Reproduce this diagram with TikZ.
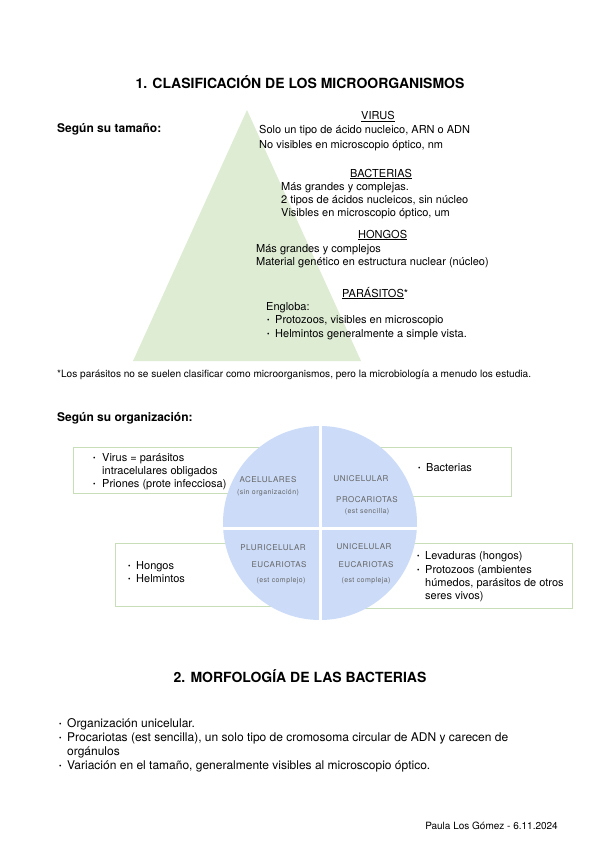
\documentclass[tikz,border=0pt]{standalone}
\usepackage{fontspec}
\setmainfont{TeX Gyre Heros}
\newfontfamily\handfont[LetterSpace=6]{TeX Gyre Heros}
\definecolor{pyrgreen}{RGB}{222,236,212}
\definecolor{circblue}{RGB}{204,220,248}
\definecolor{boxgreen}{RGB}{200,222,184}
\definecolor{handgray}{RGB}{100,100,100}
\tikzset{
  txt/.style={anchor=base west, inner sep=0pt, font=\fontsize{11}{13}\selectfont},
  bigtxt/.style={anchor=base west, inner sep=0pt, font=\fontsize{12}{14}\selectfont},
  ttl/.style={anchor=base, inner sep=0pt, font=\fontsize{14}{16}\selectfont\bfseries},
  sub/.style={anchor=base west, inner sep=0pt, font=\fontsize{12}{14}\selectfont\bfseries},
  bul/.style={anchor=base west, inner sep=0pt, font=\fontsize{7}{8}\selectfont},
  hw/.style={anchor=center, inner sep=0pt, text=handgray, font=\fontsize{8}{9}\handfont},
  hws/.style={anchor=center, inner sep=0pt, text=handgray, font=\fontsize{7}{8}\handfont},
  boxline/.style={draw=boxgreen, line width=0.6pt},
}
\begin{document}
\begin{tikzpicture}[x=1pt,y=-1pt]
\useasboundingbox[fill=white] (0,0) rectangle (599,848);
% title
\node[ttl] (t1) at (300,89) {1. CLASIFICACIÓN DE LOS MICROORGANISMOS};
\node[sub] (s1) at (57,132) {Según su tamaño:};
% pyramid
\fill[pyrgreen] (247,110) -- (361,361) -- (133,361) -- cycle;
\node[txt] (vh) at (361,120) {\underline{VIRUS}};
\node[txt] (v1) at (259,134) {Solo un tipo de ácido nucleico, ARN o ADN};
\node[txt] (v2) at (259,148) {No visibles en microscopio óptico, nm};
\node[txt] (bh) at (350,177) {\underline{BACTERIAS}};
\node[txt] (b1) at (281,190) {Más grandes y complejas.};
\node[txt] (b2) at (281,203) {2 tipos de ácidos nucleicos, sin núcleo};
\node[txt] (b3) at (281,216) {Visibles en microscopio óptico, um};
\node[txt] (hh) at (358,238) {\underline{HONGOS}};
\node[txt] (h1) at (256,252) {Más grandes y complejos};
\node[txt] (h2) at (256,265) {Material genético en estructura nuclear (núcleo)};
\node[txt] (ph) at (342,297) {\underline{PARÁSITOS}*};
\node[txt] (p0) at (266,310) {Engloba:};
\node[bul] (pb1) at (267,322.5) {•};
\node[txt] (p1) at (275,323) {Protozoos, visibles en microscopio};
\node[bul] (pb2) at (267,336.5) {•};
\node[txt] (p2) at (275,337) {Helmintos generalmente a simple vista.};
\node[anchor=base west, inner sep=0pt, font=\fontsize{10.1}{12}\selectfont] (fn) at (57,377) {*Los parásitos no se suelen clasificar como microorganismos, pero la microbiología a menudo los estudia.};
\node[sub] (s2) at (57,421) {Según su organización:};
% boxes
\draw[boxline] (73,447) rectangle (290,493);
\draw[boxline] (360,447) rectangle (511,496);
\draw[boxline] (115,543) rectangle (300,606);
\draw[boxline] (340,543) rectangle (572,608);
% circle
\fill[circblue] (320,523) circle (97);
\begin{scope}
\clip (320,523) circle (97);
\draw[white, line width=3pt] (320,420) -- (320,626);
\draw[white, line width=3pt] (220,528) -- (420,528);
\end{scope}
\node[hw] (q1a) at (268,480) {ACELULARES};
\node[hws] (q1b) at (268,493) {(sin organización)};
\node[hw] (q2a) at (361,479) {UNICELULAR};
\node[hw] (q2b) at (367,500) {PROCARIOTAS};
\node[hws] (q2c) at (367,512) {(est sencilla)};
\node[hw] (q3a) at (273,548) {PLURICELULAR};
\node[hw] (q3b) at (279,565) {EUCARIOTAS};
\node[hws] (q3c) at (281,581) {(est complejo)};
\node[hw] (q4a) at (364,547) {UNICELULAR};
\node[hw] (q4b) at (366,565) {EUCARIOTAS};
\node[hws] (q4c) at (366,581) {(est compleja)};
% box texts
\node[bul] (x1) at (93,460.5) {•};
\node[txt] (x1a) at (102,461) {Virus = parásitos};
\node[txt] (x1b) at (102,474) {intracelulares obligados};
\node[bul] (x2) at (93,486.5) {•};
\node[txt] (x2a) at (102,487) {Priones (prote infecciosa)};
\node[bul] (x3) at (418,470.5) {•};
\node[txt] (x3a) at (426,471) {Bacterias};
\node[bul] (x4) at (128,568.5) {•};
\node[txt] (x4a) at (136,569) {Hongos};
\node[bul] (x5) at (128,581.5) {•};
\node[txt] (x5a) at (136,582) {Helmintos};
\node[bul] (x6) at (417,558.5) {•};
\node[txt] (x6a) at (425,559) {Levaduras (hongos)};
\node[bul] (x7) at (417,572.5) {•};
\node[txt] (x7a) at (425,573) {Protozoos (ambientes};
\node[txt] (x7b) at (425,586) {húmedos, parásitos de otros};
\node[txt] (x7c) at (425,599) {seres vivos)};
% section 2
\node[ttl] (t2) at (300,682) {2. MORFOLOGÍA DE LAS BACTERIAS};
\node[bul] (m1) at (59,726.5) {•};
\node[bigtxt] (m1a) at (67,727) {Organización unicelular.};
\node[bul] (m2) at (59,740.5) {•};
\node[bigtxt] (m2a) at (67,741) {Procariotas (est sencilla), un solo tipo de cromosoma circular de ADN y carecen de};
\node[bigtxt] (m2b) at (67,755) {orgánulos};
\node[bul] (m3) at (59,768.5) {•};
\node[bigtxt] (m3a) at (67,769) {Variación en el tamaño, generalmente visibles al microscopio óptico.};
\node[anchor=base east, inner sep=0pt, font=\fontsize{10}{12}\selectfont] (ft) at (558,829) {Paula Los Gómez - 6.11.2024};
\end{tikzpicture}
\end{document}
